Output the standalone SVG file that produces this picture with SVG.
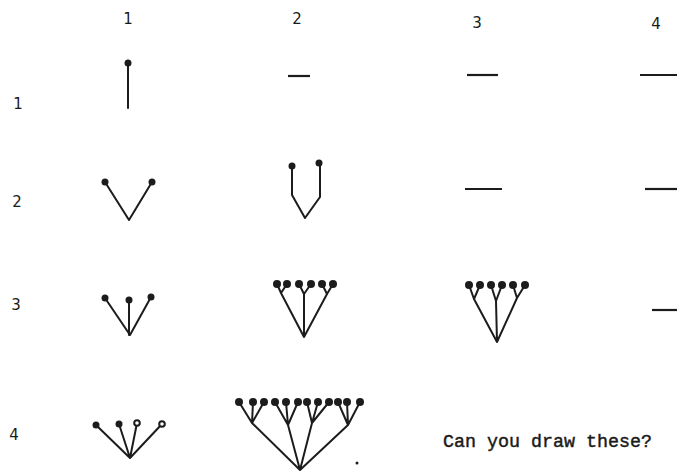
<svg xmlns="http://www.w3.org/2000/svg" width="677" height="474" viewBox="0 0 677 474">
  <style>
    .lbl { font-family: "DejaVu Sans", "Liberation Sans", sans-serif; font-size: 15px; fill: #1a1a1a; text-anchor: middle; }
    .cap { font-family: "Liberation Mono", "DejaVu Sans Mono", monospace; font-size: 19px; fill: #1a1a1a; stroke: #1a1a1a; stroke-width: 0.45; }
    .e { stroke: #1c1c1c; stroke-width: 2; fill: none; stroke-linecap: round; stroke-linejoin: round; }
    .d { fill: #1c1c1c; }
    .o { fill: #fff; stroke: #1c1c1c; stroke-width: 2; }
    .dash { stroke: #1c1c1c; stroke-width: 2.2; }
  </style>
  <rect width="677" height="474" fill="#fff"/>

  <g id="headers">
    <text class="lbl" x="128" y="24">1</text>
    <text class="lbl" x="297" y="24">2</text>
    <text class="lbl" x="477" y="28">3</text>
    <text class="lbl" x="656" y="29">4</text>
    <text class="lbl" x="18" y="109">1</text>
    <text class="lbl" x="17" y="207">2</text>
    <text class="lbl" x="16" y="310">3</text>
    <text class="lbl" x="14" y="440">4</text>
  </g>

  <g id="connectors">
    <path class="e" d="M128 63 V108"/>
    <path class="e" d="M105 182 L129 220 L152 182"/>
    <path class="e" d="M292 166 V195 L305 218 L320 197 V163"/>
    <path class="e" d="M105 298 L130 335 L151 297 M129 300 V335"/>
    <path class="e" d="M277 284 L281 293 L287 284 M281 293 L304 337 M299 284 L304 294 L311 284 M304 294 V337 M322 284 L327 294 L333 284 M327 294 L304 337"/>
    <path class="e" d="M469 285 L474 299 L480 285 M474 299 L497 342 M491 285 L496 301 L502 285 M496 301 L497 342 M513 285 L517 298 L525 285 M517 298 L497 342"/>
    <path class="e" d="M96 425 L130 458 L119 424 M137 423 L130 458 L162 424"/>
    <path class="e" d="M239 402 L252 423 L253 402 M264 402 L252 423 M252 423 L300 470
                       M275 402 L288 425 L286 402 M298 402 L288 425 M288 425 L300 470
                       M307 402 L312 423 L318 402 M329 402 L312 423 M312 423 L300 470
                       M338 402 L348 425 L347 402 M360 402 L348 425 M348 425 L300 470"/>
  </g>

  <g id="dashes">
    <line class="dash" x1="288" y1="76" x2="310" y2="76"/>
    <line class="dash" x1="467" y1="75" x2="498" y2="75"/>
    <line class="dash" x1="640" y1="75" x2="677" y2="75"/>
    <line class="dash" x1="465" y1="189" x2="502" y2="189"/>
    <line class="dash" x1="645" y1="189" x2="677" y2="189"/>
    <line class="dash" x1="652" y1="310" x2="677" y2="310"/>
  </g>

  <g id="r1c1"><circle class="d" cx="128" cy="63" r="3.5"/></g>
  <g id="r2c1">
    <circle class="d" cx="105" cy="182" r="3.5"/>
    <circle class="d" cx="152" cy="182" r="3.5"/>
  </g>
  <g id="r2c2">
    <circle class="d" cx="292" cy="166" r="3.5"/>
    <circle class="d" cx="319" cy="163" r="3.5"/>
  </g>
  <g id="r3c1">
    <circle class="d" cx="105" cy="298" r="3.5"/>
    <circle class="d" cx="129" cy="300" r="3.5"/>
    <circle class="d" cx="151" cy="297" r="3.5"/>
  </g>
  <g id="r3c2">
    <circle class="d" cx="277" cy="284" r="4"/>
    <circle class="d" cx="287" cy="284" r="4"/>
    <circle class="d" cx="299" cy="284" r="4"/>
    <circle class="d" cx="311" cy="284" r="4"/>
    <circle class="d" cx="322" cy="284" r="4"/>
    <circle class="d" cx="333" cy="284" r="4"/>
  </g>
  <g id="r3c3">
    <circle class="d" cx="469" cy="285" r="4"/>
    <circle class="d" cx="480" cy="285" r="4"/>
    <circle class="d" cx="491" cy="285" r="4"/>
    <circle class="d" cx="502" cy="285" r="4"/>
    <circle class="d" cx="513" cy="285" r="4"/>
    <circle class="d" cx="525" cy="285" r="4"/>
  </g>
  <g id="r4c1">
    <circle class="d" cx="96" cy="425" r="3.5"/>
    <circle class="d" cx="119" cy="424" r="3.5"/>
    <circle class="o" cx="137" cy="423" r="2.8"/>
    <circle class="o" cx="162" cy="424" r="2.8"/>
  </g>
  <g id="r4c2">
    <circle class="d" cx="239" cy="402" r="4"/>
    <circle class="d" cx="253" cy="402" r="4"/>
    <circle class="d" cx="264" cy="402" r="4"/>
    <circle class="d" cx="275" cy="402" r="4"/>
    <circle class="d" cx="286" cy="402" r="4"/>
    <circle class="d" cx="298" cy="402" r="4"/>
    <circle class="d" cx="307" cy="402" r="4"/>
    <circle class="d" cx="318" cy="402" r="4"/>
    <circle class="d" cx="329" cy="402" r="4"/>
    <circle class="d" cx="338" cy="402" r="4"/>
    <circle class="d" cx="347" cy="402" r="4"/>
    <circle class="d" cx="360" cy="402" r="4"/>
    <circle class="d" cx="357" cy="463" r="1.5"/>
  </g>

  <g id="caption">
    <text class="cap" x="443" y="447" textLength="209" lengthAdjust="spacingAndGlyphs">Can you draw these?</text>
  </g>
</svg>
